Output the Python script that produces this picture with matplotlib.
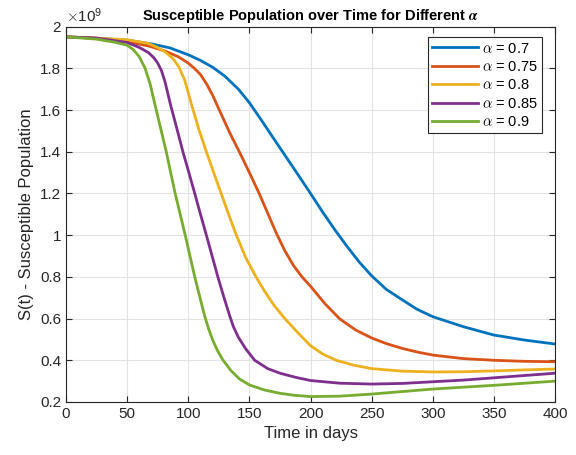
import numpy as np
import matplotlib
matplotlib.use("Agg")
import matplotlib.pyplot as plt

# values, S in units of 1e9
alphas = ["0.7", "0.75", "0.8", "0.85", "0.9"]
colors = ["#0072BD", "#D95319", "#EDB120", "#7E2F8E", "#77AC30"]

t_07 = [0, 25, 50, 70, 85, 100, 110, 120, 130, 141, 150, 160, 170, 180, 190, 200, 210, 220, 230, 240, 250,
        262, 275, 287, 300, 325, 350, 375, 400]
s_07 = [1.951, 1.944, 1.935, 1.917, 1.898, 1.865, 1.838, 1.805, 1.762, 1.70, 1.635, 1.55, 1.462, 1.375, 1.288,
        1.20, 1.11, 1.025, 0.945, 0.87, 0.805, 0.74, 0.69, 0.645, 0.609, 0.561, 0.521, 0.497, 0.478]

t_075 = [0, 25, 50, 67, 81, 92, 100, 105, 110, 115, 120, 125, 134, 143, 150, 158, 165, 172, 179, 186, 193,
         200, 212, 224, 237, 250, 262, 275, 287, 300, 325, 350, 375, 400]
s_075 = [1.951, 1.944, 1.927, 1.908, 1.883, 1.855, 1.825, 1.80, 1.77, 1.725, 1.67, 1.605, 1.49, 1.385, 1.30,
         1.20, 1.105, 1.01, 0.925, 0.855, 0.80, 0.755, 0.67, 0.598, 0.545, 0.507, 0.48, 0.457, 0.44, 0.425,
         0.408, 0.40, 0.395, 0.393]

t_08 = [0, 25, 50, 67, 75, 81, 87, 92, 97, 102.5, 108.5, 114.8, 120.8, 126.9, 133, 139, 147, 155.4, 162, 170,
        179, 190, 200, 210, 221, 235, 250, 275, 300, 325, 350, 375, 400]
s_08 = [1.951, 1.945, 1.937, 1.92, 1.90, 1.879, 1.85, 1.81, 1.745, 1.63, 1.51, 1.40, 1.30, 1.20, 1.10, 1.005,
        0.892, 0.80, 0.735, 0.665, 0.60, 0.53, 0.47, 0.43, 0.40, 0.377, 0.36, 0.348, 0.344, 0.345, 0.349, 0.354, 0.358]

t_085 = [0, 25, 50, 60, 67.5, 72, 75, 78, 81, 85.5, 90.5, 95.6, 100.5, 105.3, 110, 114.8, 119.5, 124.2, 129,
         133.8, 137, 141, 147, 154.3, 165, 175, 188, 200, 224, 250, 275, 300, 325, 350, 375, 400]
s_085 = [1.951, 1.945, 1.924, 1.90, 1.875, 1.85, 1.825, 1.79, 1.735, 1.625, 1.515, 1.40, 1.30, 1.20, 1.10,
         1.00, 0.90, 0.80, 0.705, 0.615, 0.56, 0.51, 0.455, 0.40, 0.36, 0.338, 0.318, 0.303, 0.29, 0.286,
         0.289, 0.297, 0.305, 0.316, 0.327, 0.338]

t_09 = [0, 25, 40, 50, 55, 60, 64.7, 68.8, 73, 77.5, 82, 85.6, 89.3, 93.4, 97.5, 101.4, 105.3, 109.4, 113.5,
        117, 120, 124, 128.5, 135, 142, 150, 162, 174.6, 187, 200, 224, 250, 275, 300, 325, 350, 375, 400]
s_09 = [1.951, 1.94, 1.925, 1.911, 1.89, 1.855, 1.80, 1.725, 1.62, 1.51, 1.40, 1.30, 1.20, 1.10, 1.00, 0.90,
        0.80, 0.705, 0.61, 0.545, 0.497, 0.445, 0.40, 0.35, 0.31, 0.282, 0.258, 0.242, 0.232, 0.226, 0.228,
        0.238, 0.25, 0.262, 0.271, 0.28, 0.29, 0.30]

times = [t_07, t_075, t_08, t_085, t_09]
values = [s_07, s_075, s_08, s_085, s_09]

plt.rcParams["font.family"] = ["Liberation Sans", "DejaVu Sans"]
plt.rcParams["mathtext.fontset"] = "cm"
axcol = "#262626"

fig = plt.figure(figsize=(5.76, 4.55), dpi=100)
ax = fig.add_axes([0.1146, 0.1165, 0.849, 0.825])

for t, s, a, c in zip(times, values, alphas, colors):
    ax.plot(t, s, color=c, lw=2.0, label=r"$\alpha$ = " + a, solid_joinstyle="round")

ax.set_xlim(0, 400)
ax.set_ylim(0.2, 2.0)
ax.set_xticks(np.arange(0, 401, 50))
ax.set_yticks(np.arange(0.2, 2.01, 0.2))
ax.set_yticklabels(["%g" % round(v, 1) for v in np.arange(0.2, 2.01, 0.2)])
ax.grid(True, color="#e3e3e3", lw=0.8)
ax.set_axisbelow(True)
ax.tick_params(direction="in", top=True, right=True, length=4, labelsize=11,
               colors=axcol, width=0.8)
for sp in ax.spines.values():
    sp.set_color(axcol)
    sp.set_linewidth(0.8)

ax.text(0.0, 1.005, r"$\times\mathregular{10^{9}}$", transform=ax.transAxes, fontsize=11,
        color=axcol, ha="left", va="bottom")
ax.set_title(r"Susceptible Population over Time for Different $\boldsymbol{\alpha}$",
             fontsize=10.5, fontweight="bold", pad=5)
ax.set_xlabel("Time in days", fontsize=12, color=axcol)
ax.set_ylabel("S(t) - Susceptible Population", fontsize=12, color=axcol)

leg = ax.legend(loc="upper right", bbox_to_anchor=(0.9735, 0.972), borderaxespad=0,
                fontsize=10.5, fancybox=False, handlelength=3.1, handletextpad=0.3,
                labelspacing=0.3, borderpad=0.3, framealpha=1)
leg.get_frame().set_edgecolor(axcol)
leg.get_frame().set_linewidth(0.8)

fig.savefig("out.png", dpi=100)
